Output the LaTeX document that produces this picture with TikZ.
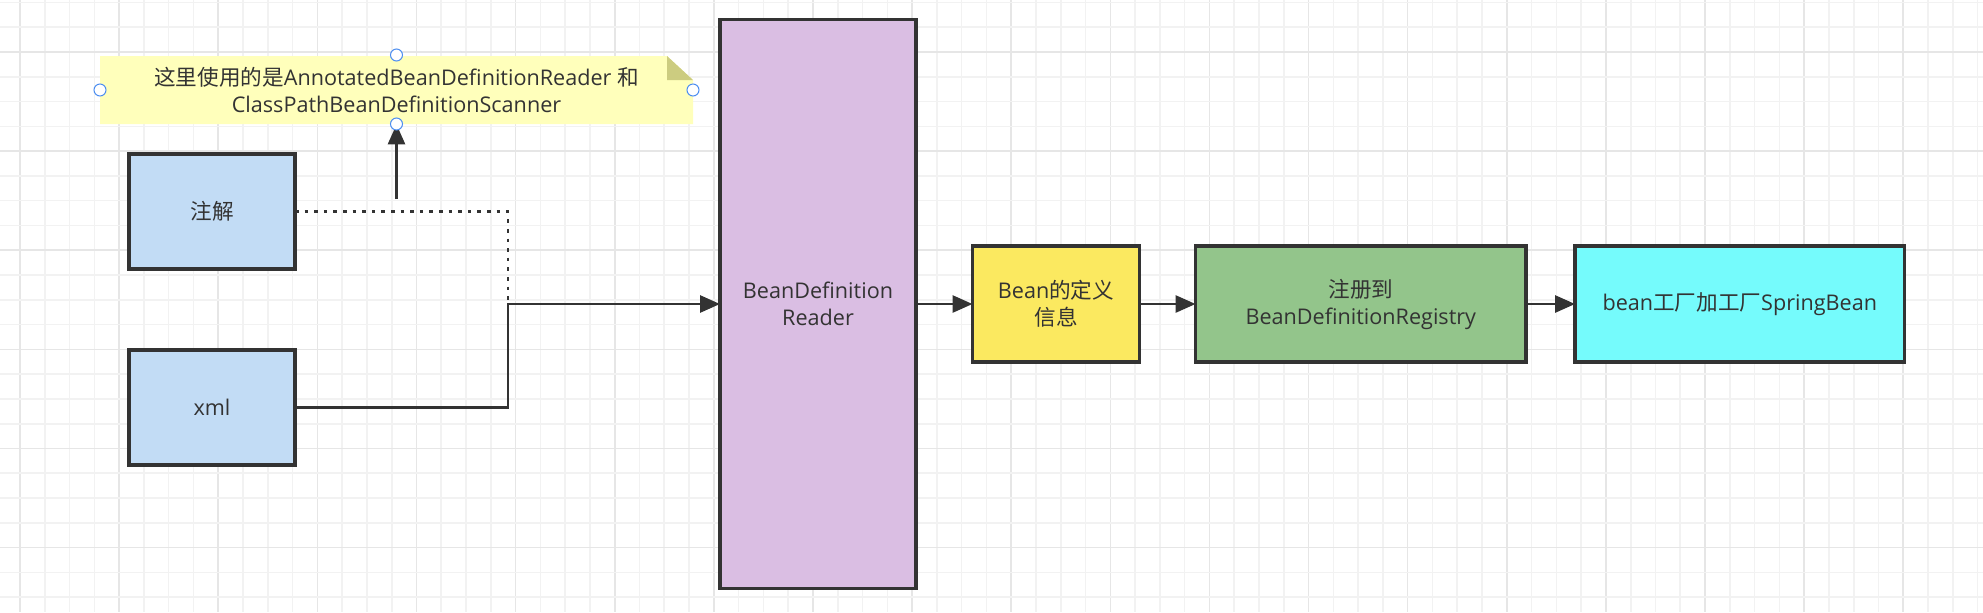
\documentclass[tikz,border=0pt]{standalone}
\usepackage{fontspec}
\setmainfont{Open Sans}
\newfontfamily\cjk{Noto Sans CJK SC}
\usetikzlibrary{arrows.meta}
\definecolor{ink}{HTML}{333333}
\definecolor{gridminor}{HTML}{F2F2F2}
\definecolor{gridmajor}{HTML}{E6E6E6}
\definecolor{cblue}{HTML}{C2DCF5}
\definecolor{cpurple}{HTML}{DABEE3}
\definecolor{cyellow}{HTML}{FBE960}
\definecolor{cgreen}{HTML}{93C58B}
\definecolor{ccyan}{HTML}{75FBFC}
\definecolor{cnote}{HTML}{FFFFBB}
\definecolor{cfold}{HTML}{CCCC80}
\definecolor{chandle}{HTML}{4D8EF0}
\tikzset{
  box/.style={draw=ink, line width=1.6pt, inner sep=0pt, outer sep=0pt, text=ink, align=center},
  conn/.style={draw=ink, line width=1.4pt, -{Triangle[length=10pt,width=8.5pt]}},
  dotline/.style={draw=ink, line width=1.4pt, dash pattern=on 1.8pt off 3pt},
  handle/.style={draw=chandle, fill=white, line width=0.5pt}
}
\begin{document}
\begin{tikzpicture}[x=0.5pt,y=-0.5pt, font=\fontsize{10.8pt}{13.5pt}\selectfont]
\useasboundingbox (0,0) rectangle (1983,612);
\fill[white] (0,0) rectangle (1983,612);
% grid
\foreach \k in {0,...,79}{
  \pgfmathsetmacro{\xx}{20+24.78*\k}
  \pgfmathtruncatemacro{\m}{mod(\k,4)}
  \ifnum\m=0
    \draw[gridmajor, line width=0.8pt] (\xx,0) -- (\xx,612);
  \else
    \draw[gridminor, line width=0.8pt] (\xx,0) -- (\xx,612);
  \fi
}
\foreach \k in {0,...,24}{
  \pgfmathsetmacro{\yy}{2.44+24.78*\k}
  \pgfmathtruncatemacro{\m}{mod(\k+2,4)}
  \ifnum\m=0
    \draw[gridmajor, line width=0.8pt] (0,\yy) -- (1983,\yy);
  \else
    \draw[gridminor, line width=0.8pt] (0,\yy) -- (1983,\yy);
  \fi
}
% note
\fill[cnote] (100,56) -- (667,56) -- (693,80) -- (693,124) -- (100,124) -- cycle;
\fill[cfold] (667,56) -- (667,80) -- (693,80) -- cycle;
\node[text=ink, align=center, inner sep=0pt, minimum width=296.5pt, minimum height=34pt] (note) at (396.5,90)
  {{\cjk 这里使用的是}AnnotatedBeanDefinitionReader {\cjk 和}\\ClassPathBeanDefinitionScanner};
% boxes
\node[box, fill=cblue, minimum width=83pt, minimum height=57.5pt] (ann) at (212,211.5) {\cjk 注解};
\node[box, fill=cblue, minimum width=83pt, minimum height=57.5pt] (xml) at (212,407.5) {xml};
\node[box, fill=cpurple, minimum width=98pt, minimum height=284.5pt] (reader) at (818,304) {BeanDefinition\\Reader};
\node[box, fill=cyellow, minimum width=83.5pt, minimum height=58pt] (bean) at (1056,304) {Bean{\cjk 的定义}\\{\cjk 信息}};
\node[box, fill=cgreen, minimum width=165.25pt, minimum height=58pt] (reg) at (1360.8,304) {{\cjk 注册到}\\BeanDefinitionRegistry};
\node[box, fill=ccyan, minimum width=164.75pt, minimum height=58pt] (fac) at (1739.8,304) {bean{\cjk 工厂加工厂}SpringBean};
% connectors
\coordinate (j) at (508,304);
\coordinate (u) at (396.5,199);
\draw[dotline] (ann.east) -| (j) -- (j -| reader.west);
\draw[conn] (xml.east) -| (j) -- (j -| reader.west);
\draw[conn] (u) -- (u |- note.south);
\draw[conn] (reader.east |- bean.west) -- (bean.west);
\draw[conn] (bean.east) -- (reg.west);
\draw[conn] (reg.east) -- (fac.west);
% selection handles
\draw[handle] (396.5,55) circle (3pt);
\draw[handle] (100,90) circle (3pt);
\draw[handle] (693,90) circle (3pt);
\draw[handle] (396.5,124) circle (3pt);
\end{tikzpicture}
\end{document}
